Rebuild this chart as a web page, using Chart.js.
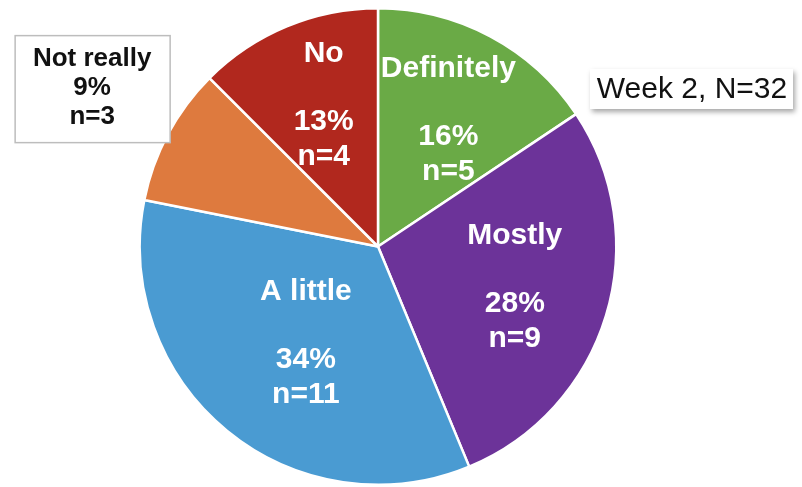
<!DOCTYPE html>
<html>
<head>
<meta charset="utf-8">
<script src="https://cdn.jsdelivr.net/npm/chart.js@4"></script>
<style>
  html, body { margin: 0; padding: 0; background: #fff; }
  #wrap { width: 802px; height: 487px; }
</style>
</head>
<body>
<div id="wrap"><canvas id="mycanvas" width="802" height="487"></canvas></div>
<script>
// data
var categories = ["Definitely", "Mostly", "A little", "Not really", "No"];
var counts = [5, 9, 11, 3, 4];
var percents = ["16%", "28%", "34%", "9%", "13%"];
var sliceColors = ["#6AAA46", "#6C3399", "#4A9BD2", "#DE7A3E", "#B1281E"];
var titleText = "Week 2, N=32";

// where each label sits along the slice middle (fraction of radius)
var labelDist = [0.6, 0.6, 0.53, 1.37, 0.64];
var labelShift = [[3, 0], [0, 0], [8, 0], [2, -3], [4, 0]];

var labelPlugin = {
	id: "sliceLabels",
	afterDatasetsDraw: function(chart) {
		var ctx = chart.ctx;
		var arcs = chart.getDatasetMeta(0).data;
		ctx.save();
		ctx.textAlign = "center";
		ctx.textBaseline = "middle";
		for (var i = 0; i < arcs.length; i++) {
			var a = arcs[i];
			var mid = (a.startAngle + a.endAngle) / 2;
			var r = a.outerRadius * labelDist[i];
			var x = a.x + Math.cos(mid) * r + labelShift[i][0];
			var y = a.y + Math.sin(mid) * r + labelShift[i][1];
			if (labelDist[i] > 1) {
				// outside label in a box, black text
				ctx.font = "bold 26px 'Liberation Sans', Arial, sans-serif";
				ctx.fillStyle = "#fff";
				ctx.fillRect(x - 77, y - 54, 155, 107);
				ctx.strokeStyle = "#bdbdbd";
				ctx.lineWidth = 1.5;
				ctx.strokeRect(x - 77, y - 54, 155, 107);
				ctx.fillStyle = "#111";
				ctx.fillText(categories[i], x, y - 31);
				ctx.fillText(percents[i], x, y - 2);
				ctx.fillText("n=" + counts[i], x, y + 27);
			} else {
				ctx.font = "bold 30px 'Liberation Sans', Arial, sans-serif";
				ctx.fillStyle = "#fff";
				ctx.fillText(categories[i], x, y - 52);
				ctx.fillText(percents[i], x, y + 16);
				ctx.fillText("n=" + counts[i], x, y + 51);
			}
		}
		// title box at upper right
		ctx.shadowColor = "rgba(0,0,0,0.35)";
		ctx.shadowBlur = 5;
		ctx.shadowOffsetX = 2;
		ctx.shadowOffsetY = 3;
		ctx.fillStyle = "#fff";
		ctx.fillRect(590, 69, 203, 40);
		ctx.shadowColor = "transparent";
		ctx.font = "30px 'Liberation Sans', Arial, sans-serif";
		ctx.fillStyle = "#111";
		ctx.fillText(titleText, 692, 90);
		ctx.restore();
	}
};

var chartdata = {
	labels: categories,
	datasets: [
		{
			data: counts,
			backgroundColor: sliceColors,
			borderColor: "#ffffff",
			borderWidth: 2.5
		}
	]
};

var ctx = document.getElementById("mycanvas");
var PieGraph = new Chart(ctx, {
	type: "pie",
	data: chartdata,
	options: {
		responsive: false,
		animation: false,
		layout: { padding: { left: 0, right: 46, top: 7, bottom: 1 } },
		plugins: {
			legend: { display: false },
			tooltip: { enabled: false }
		}
	},
	plugins: [labelPlugin]
});
</script>
</body>
</html>
